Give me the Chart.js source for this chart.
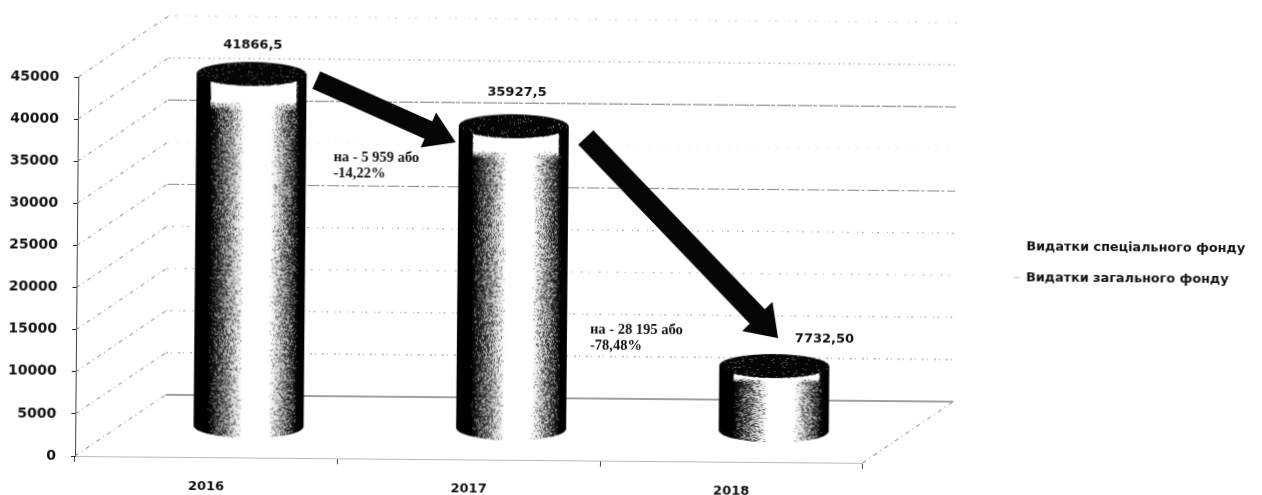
<!DOCTYPE html>
<html lang="uk">
<head>
<meta charset="utf-8">
<title>Видатки</title>
<script src="https://cdn.jsdelivr.net/npm/chart.js@4"></script>
<style>
html, body { margin: 0; background: #fff; overflow: hidden; }
#chart { display: block; transform-origin: 75px 456px; transform: rotate(0.5deg); }
</style>
</head>
<body>
<canvas id="chart" width="1262" height="495"></canvas>
<script>
const years = ['2016', '2017', '2018'];
const zagalnyiFond = [41866.5, 35927.5, 7732.5];
const spetsialnyiFond = [0, 0, 0];
const valueLabels = ['41866,5', '35927,5', '7732,50'];
const yTickValues = [0, 5000, 10000, 15000, 20000, 25000, 30000, 35000, 40000, 45000];
const changeNotes = [
    ['на - 5 959 або', '-14,22%'],
    ['на - 28 195 або', '-78,48%']
];

// depth of the fake 3D box
const depthX = 90;
const depthY = -62;
// cylinders stand about half way into the box
const cylinderX = 42;
const cylinderY = -31;

// look of the back wall lines, same order as yTickValues
const wallLines = [
    { color: '#444', dash: [] },
    { color: '#888', dash: [2, 3, 1, 6] },
    { color: '#999', dash: [1, 3, 2, 7] },
    { color: '#aaa', dash: [2, 6, 1, 9] },
    { color: '#aaa', dash: [1, 4, 2, 8] },
    { color: '#888', dash: [12, 2, 3, 3] },
    { color: '#ddd', dash: [1, 9] },
    { color: '#777', dash: [14, 1, 4, 2] },
    { color: '#999', dash: [2, 3, 1, 4] },
    { color: '#bbb', dash: [1, 5, 2, 12] }
];

// where the value label sits, relative to the top of the cap
const labelShift = [[1, -17], [3, -22], [50, -15]];

function drawWalls(chart) {
    const ctx = chart.ctx;
    const area = chart.chartArea;
    const y = chart.scales.y;
    ctx.save();
    ctx.lineWidth = 1;
    yTickValues.forEach(function (v, i) {
        const py = y.getPixelForValue(v);
        ctx.strokeStyle = '#777';
        ctx.setLineDash([4, 4, 1, 4]);
        ctx.beginPath();
        ctx.moveTo(area.left, py);
        ctx.lineTo(area.left + depthX, py + depthY);
        ctx.stroke();
        ctx.strokeStyle = wallLines[i].color;
        ctx.setLineDash(wallLines[i].dash);
        ctx.beginPath();
        ctx.moveTo(area.left + depthX, py + depthY);
        ctx.lineTo(area.right + depthX, py + depthY);
        ctx.stroke();
    });
    // right edge of the floor
    ctx.strokeStyle = '#777';
    ctx.setLineDash([4, 4, 1, 4]);
    ctx.beginPath();
    ctx.moveTo(area.right, area.bottom);
    ctx.lineTo(area.right + depthX, area.bottom + depthY);
    ctx.stroke();
    ctx.restore();
}

// gray 0..1 across the cylinder, then dithered so it looks like the scan
function drawCylinder(ctx, bar) {
    const w = Math.round(bar.width);
    const rx = w / 2;
    const ry = 12;
    const h = bar.base - bar.y;
    const off = document.createElement('canvas');
    off.width = w + 2;
    off.height = Math.ceil(h + ry * 2 + 2);
    const c = off.getContext('2d');
    const cx = rx + 1;
    const top = ry + 1;
    const bottom = top + h;

    const grad = c.createLinearGradient(1, 0, w + 1, 0);
    [[0, 0], [0.13, 0], [0.2, 0.22], [0.3, 0.5], [0.38, 0.8], [0.44, 1], [0.68, 1], [0.74, 0.8], [0.83, 0.45], [0.9, 0.2], [0.94, 0], [1, 0]].forEach(function (s) {
        const g = Math.round(s[1] * 255);
        grad.addColorStop(s[0], 'rgb(' + g + ',' + g + ',' + g + ')');
    });
    c.fillStyle = grad;
    c.beginPath();
    c.moveTo(cx - rx, top);
    c.lineTo(cx - rx, bottom);
    c.ellipse(cx, bottom, rx, ry, 0, Math.PI, 0, true);
    c.lineTo(cx + rx, top);
    c.closePath();
    c.fill();

    // bright band under the cap
    const band = h * 0.07 + ry;
    const light = c.createLinearGradient(0, top, 0, top + band);
    light.addColorStop(0, 'rgba(255,255,255,1)');
    light.addColorStop(0.75, 'rgba(255,255,255,1)');
    light.addColorStop(1, 'rgba(255,255,255,0)');
    c.fillStyle = light;
    c.fillRect(1 + w * 0.13, top, w * 0.78, band);

    c.fillStyle = 'rgb(10,10,10)';
    c.beginPath();
    c.ellipse(cx, top, rx, ry, 0, 0, Math.PI * 2);
    c.fill();

    const img = c.getImageData(0, 0, off.width, off.height);
    const d = img.data;
    for (let py = 0; py < off.height; py++) {
        for (let px = 0; px < off.width; px++) {
            const k = (py * off.width + px) * 4;
            const n = Math.sin((px + bar.x) * 12.9898 + py * 78.233) * 43758.5453;
            const grain = n - Math.floor(n);
            const dot = d[k] / 255 > grain ? 255 : 0;
            // half grain, half smooth tone: the scan is softer than pure dither
            const v = Math.round(dot * 0.5 + d[k] * 0.5);
            d[k] = v;
            d[k + 1] = v;
            d[k + 2] = v;
        }
    }
    c.putImageData(img, 0, 0);
    ctx.drawImage(off, bar.x + cylinderX - cx, bar.y + cylinderY - top);
}

function drawArrow(ctx, x1, y1, x2, y2, shaft, head, headLen) {
    const a = Math.atan2(y2 - y1, x2 - x1);
    const len = Math.hypot(x2 - x1, y2 - y1);
    ctx.save();
    ctx.translate(x1, y1);
    ctx.rotate(a);
    ctx.fillStyle = '#050505';
    ctx.beginPath();
    ctx.moveTo(0, -shaft / 2);
    ctx.lineTo(len - headLen, -shaft / 2);
    ctx.lineTo(len - headLen, -head / 2);
    ctx.lineTo(len, 0);
    ctx.lineTo(len - headLen, head / 2);
    ctx.lineTo(len - headLen, shaft / 2);
    ctx.lineTo(0, shaft / 2);
    ctx.closePath();
    ctx.fill();
    ctx.restore();
}

const cylinderPlugin = {
    id: 'cylinders',
    beforeDatasetsDraw: function (chart) {
        drawWalls(chart);
    },
    beforeDatasetDraw: function (chart, args) {
        // zero height series has nothing to show, the other one becomes cylinders
        if (args.index === 0) {
            args.meta.data.forEach(function (bar) {
                drawCylinder(chart.ctx, bar);
            });
        }
        return false;
    },
    afterDatasetsDraw: function (chart) {
        const ctx = chart.ctx;
        drawArrow(ctx, 313, 78, 453, 139, 19, 38, 30);
        drawArrow(ctx, 583, 133, 777, 332, 21, 42, 30);

        ctx.save();
        ctx.fillStyle = '#111';
        ctx.textAlign = 'center';
        ctx.textBaseline = 'middle';
        ctx.font = 'bold 13px "DejaVu Sans"';
        chart.getDatasetMeta(0).data.forEach(function (bar, i) {
            const capTop = bar.y + cylinderY - 12;
            ctx.fillText(valueLabels[i], bar.x + cylinderX + labelShift[i][0], capTop + labelShift[i][1]);
        });
        ctx.textAlign = 'left';
        ctx.font = 'bold 14.5px "Liberation Serif"';
        ctx.fillText(changeNotes[0][0], 331, 155);
        ctx.fillText(changeNotes[0][1], 331, 171);
        ctx.fillText(changeNotes[1][0], 589, 325);
        ctx.fillText(changeNotes[1][1], 589, 341);
        ctx.restore();
    },
    afterLayout: function (chart) {
        // legend stays in the layout, only moved to the far right
        const legend = chart.legend;
        const w = legend.width;
        legend.left = 994;
        legend.right = 994 + w;
        const h = legend.height;
        legend.top = 214;
        legend.bottom = 214 + h;
    }
};

new Chart(document.getElementById('chart').getContext('2d'), {
    type: 'bar',
    plugins: [cylinderPlugin],
    data: {
        labels: years,
        datasets: [
            {
                label: 'Видатки загального фонду',
                data: zagalnyiFond,
                backgroundColor: '#bbb',
                barPercentage: 0.42,
                categoryPercentage: 1
            },
            {
                label: 'Видатки спеціального фонду',
                data: spetsialnyiFond,
                backgroundColor: '#fff',
                barPercentage: 0.42,
                categoryPercentage: 1
            }
        ]
    },
    options: {
        responsive: false,
        animation: false,
        layout: { padding: { top: 77, right: 140, left: 0, bottom: 0 } },
        plugins: {
            tooltip: { enabled: false },
            legend: {
                position: 'right',
                align: 'start',
                reverse: true,
                labels: {
                    boxWidth: 6,
                    boxHeight: 1,
                    padding: 18,
                    color: '#111',
                    font: { family: '"DejaVu Sans"', size: 12.8, weight: 'bold' }
                }
            }
        },
        scales: {
            x: {
                stacked: true,
                afterFit: function (scale) { scale.height = 39; },
                border: { color: '#bbb', dash: [2, 6] },
                grid: { drawOnChartArea: false, drawTicks: true, tickLength: 6, color: '#444' },
                ticks: {
                    color: '#111',
                    padding: 16,
                    maxRotation: 0,
                    font: { family: '"DejaVu Sans"', size: 13, weight: 'bold' }
                }
            },
            y: {
                stacked: true,
                min: 0,
                max: 45000,
                afterFit: function (scale) { scale.width = 75; },
                afterBuildTicks: function (scale) {
                    scale.ticks = yTickValues.map(function (v) { return { value: v }; });
                },
                border: { color: '#444' },
                grid: { drawOnChartArea: false, drawTicks: true, tickLength: 4, color: '#222' },
                ticks: {
                    color: '#111',
                    padding: 15,
                    callback: function (v) { return String(v); },
                    font: { family: '"DejaVu Sans"', size: 14, weight: 'bold' }
                }
            }
        }
    }
});
</script>
</body>
</html>
